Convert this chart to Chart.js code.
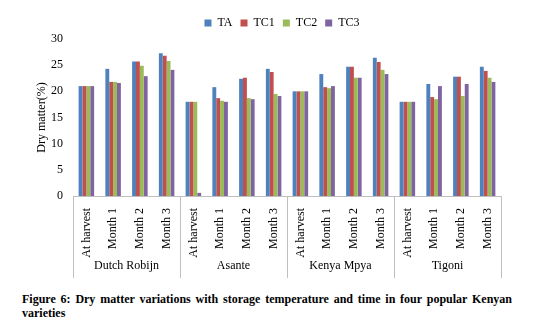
<!DOCTYPE html>
<html>
<head>
<meta charset="utf-8">
<script src="https://cdn.jsdelivr.net/npm/chart.js@4/dist/chart.umd.min.js"></script>
<style>
  body { margin: 0; background: #fff; }
  #wrap { position: relative; width: 536px; height: 329px; }
  #caption {
    position: absolute; left: 22px; top: 292px; width: 490px;
    font: bold 12px "Liberation Serif", "Times New Roman", serif;
    line-height: 14px; text-align: justify; color: #000;
  }
</style>
</head>
<body>
<div id="wrap">
  <canvas id="dm" width="536" height="285"></canvas>
  <div id="caption">Figure 6: Dry matter variations with storage temperature and time in four popular Kenyan varieties</div>
</div>
<script>
const varieties = ['Dutch Robijn', 'Asante', 'Kenya Mpya', 'Tigoni'];
const periods = ['At harvest', 'Month 1', 'Month 2', 'Month 3'];

const TA  = [21, 24.3, 25.7, 27.3,  18, 20.8, 22.4, 24.3,  20, 23.3, 24.7, 26.4,  18, 21.4, 22.8, 24.7];
const TC1 = [21, 21.8, 25.7, 26.8,  18, 18.7, 22.6, 23.7,  20, 20.8, 24.7, 25.6,  18, 18.9, 22.8, 23.9];
const TC2 = [21, 21.8, 24.9, 25.8,  18, 18.2, 18.7, 19.5,  20, 20.6, 22.6, 24.1,  18, 18.5, 19.1, 22.6];
const TC3 = [21, 21.6, 22.9, 24.1, 0.6, 18.0, 18.5, 19.1,  20, 21.0, 22.6, 23.3,  18, 21.0, 21.4, 21.8];

const yTicks = [0, 5, 10, 15, 20, 25, 30];

const labels = [];
varieties.forEach(() => periods.forEach(p => labels.push(p)));

const serif = '"Liberation Serif", "Times New Roman", serif';

// variety names under the period labels, with separators between groups
const groupAxis = {
  id: 'groupAxis',
  afterLayout(chart) {
    // nudge the legend a little to the right
    chart.legend.left += 14;
    chart.legend.right += 14;
  },
  afterDraw(chart) {
    const ctx = chart.ctx;
    const x = chart.scales.x;
    const bottom = chart.chartArea.bottom;
    const step = (x.right - x.left) / labels.length;
    ctx.save();
    ctx.strokeStyle = '#bfbfbf';
    ctx.lineWidth = 1;
    for (let g = 0; g <= varieties.length; g++) {
      const px = Math.round(x.left + g * periods.length * step) + 0.5;
      ctx.beginPath();
      ctx.moveTo(px, bottom);
      ctx.lineTo(px, bottom + 82);
      ctx.stroke();
    }
    ctx.fillStyle = '#000';
    ctx.font = '12px ' + serif;
    ctx.textAlign = 'center';
    ctx.textBaseline = 'middle';
    varieties.forEach((v, g) => {
      const cx = x.left + (g + 0.5) * periods.length * step;
      ctx.fillText(v, cx, bottom + 70);
    });
    ctx.restore();
  }
};

new Chart(document.getElementById('dm').getContext('2d'), {
  type: 'bar',
  data: {
    labels: labels,
    datasets: [
      { label: 'TA',  data: TA,  backgroundColor: '#4F81BD' },
      { label: 'TC1', data: TC1, backgroundColor: '#C0504D' },
      { label: 'TC2', data: TC2, backgroundColor: '#9BBB59' },
      { label: 'TC3', data: TC3, backgroundColor: '#8064A2' }
    ]
  },
  options: {
    responsive: false,
    animation: false,
    layout: { padding: { left: 35, right: 35, top: 5, bottom: 0 } },
    datasets: { bar: { categoryPercentage: 0.58, barPercentage: 1 } },
    plugins: {
      tooltip: { enabled: false },
      legend: {
        position: 'top',
        labels: {
          boxWidth: 7, boxHeight: 7, padding: 8,
          color: '#000', font: { family: serif, size: 12 }
        }
      }
    },
    scales: {
      x: {
        grid: { display: false },
        border: { display: true, color: '#bfbfbf' },
        ticks: {
          autoSkip: false, minRotation: 90, maxRotation: 90, padding: 4,
          color: '#000', font: { family: serif, size: 12 }
        },
        afterFit(scale) { scale.height = 89; }
      },
      y: {
        min: 0, max: 30,
        afterBuildTicks(scale) { scale.ticks = yTicks.map(v => ({ value: v })); },
        grid: { display: false, drawTicks: false },
        border: { display: false },
        ticks: { padding: 10, color: '#000', font: { family: serif, size: 12 } },
        title: { display: true, text: 'Dry matter(%)', color: '#000', font: { family: serif, size: 12 }, padding: 0 },
        afterFit(scale) { scale.width = 38; scale.paddingTop = 39; }
      }
    }
  },
  plugins: [groupAxis]
});
</script>
</body>
</html>
